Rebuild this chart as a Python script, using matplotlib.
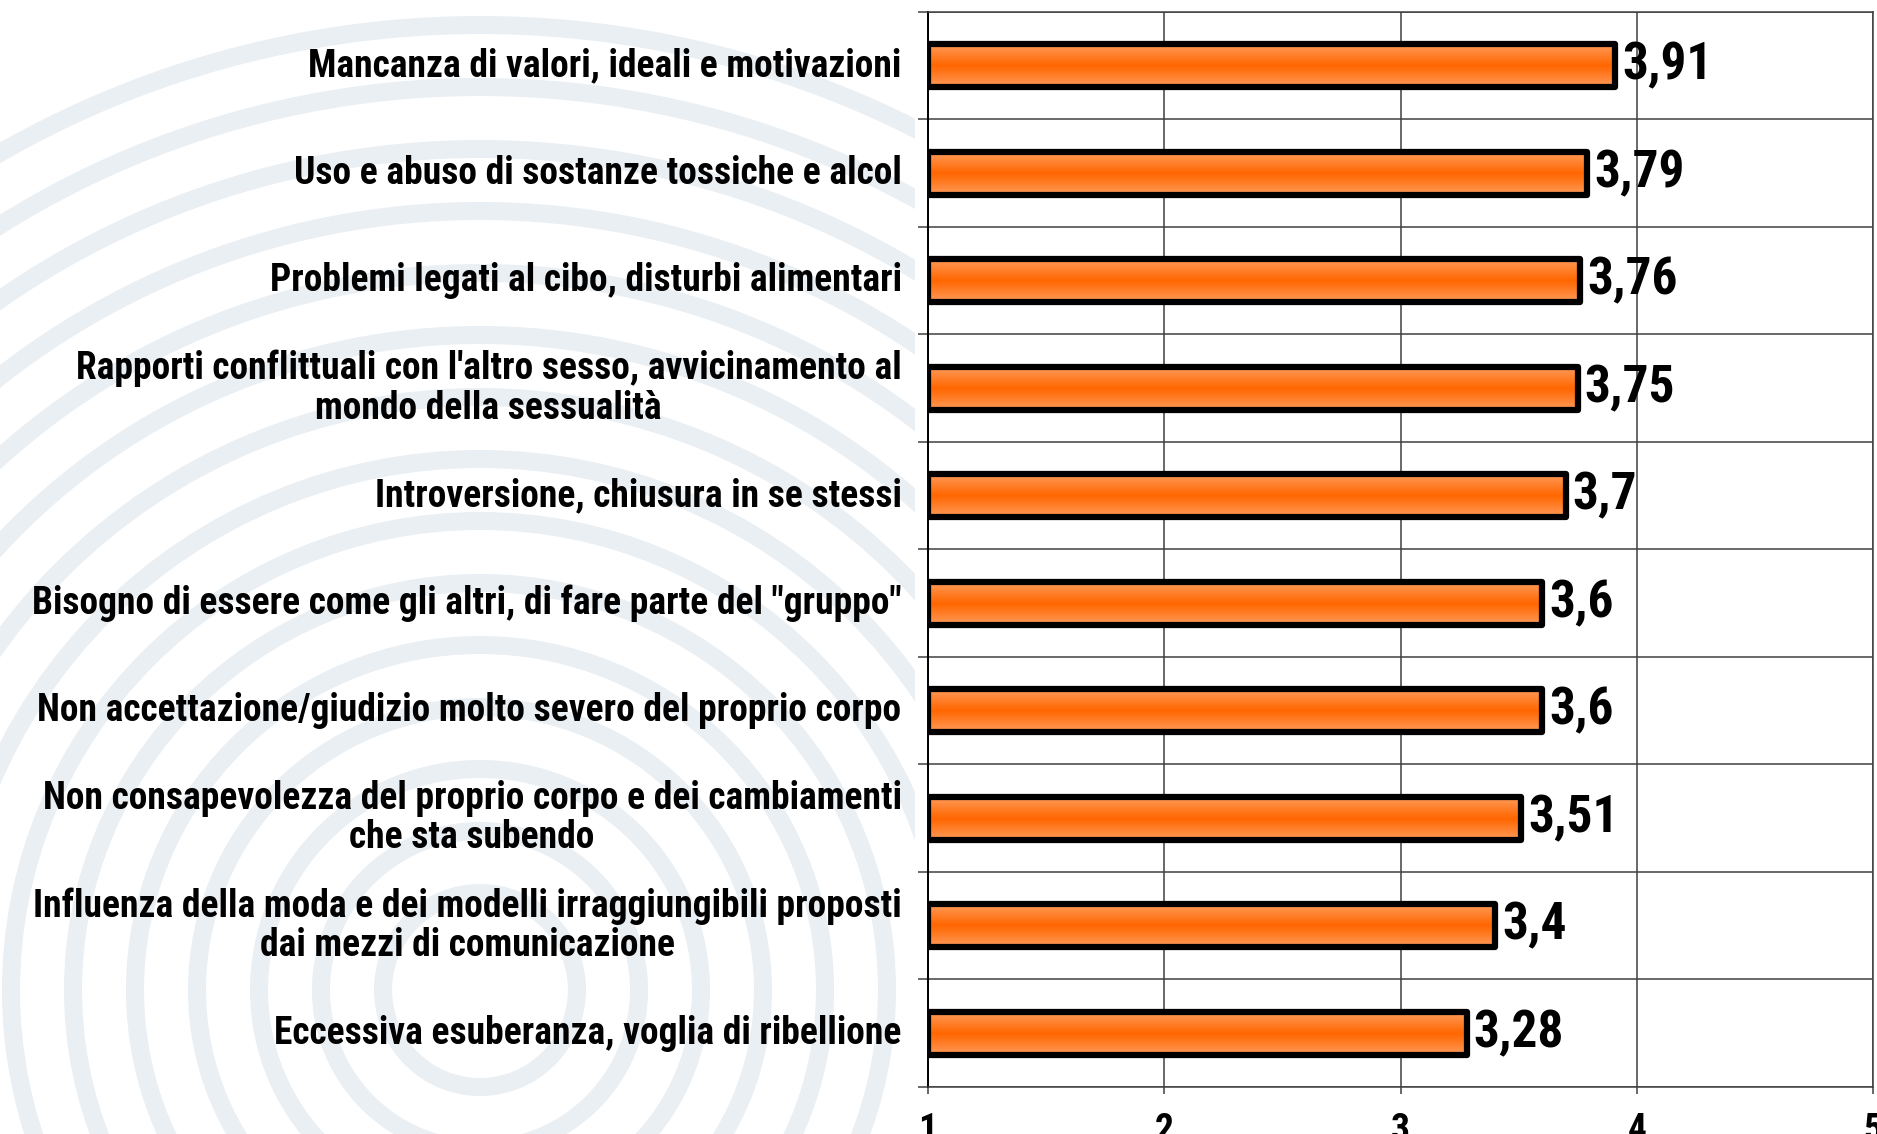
import numpy as np
import matplotlib
matplotlib.use("Agg")
import matplotlib.pyplot as plt
from matplotlib import font_manager as fm
from matplotlib.patches import Circle, Rectangle
from matplotlib.colors import LinearSegmentedColormap
from matplotlib.transforms import blended_transform_factory, offset_copy

categories = [
    "Mancanza di valori, ideali e motivazioni",
    "Uso e abuso di sostanze tossiche e alcol",
    "Problemi legati al cibo, disturbi alimentari",
    "Rapporti conflittuali con l'altro sesso, avvicinamento al\nmondo della sessualità",
    "Introversione, chiusura in se stessi",
    "Bisogno di essere come gli altri, di fare parte del \"gruppo\"",
    "Non accettazione/giudizio molto severo del proprio corpo",
    "Non consapevolezza del proprio corpo e dei cambiamenti\nche sta subendo",
    "Influenza della moda e dei modelli irraggiungibili proposti\ndai mezzi di comunicazione",
    "Eccessiva esuberanza, voglia di ribellione",
]
values = [3.91, 3.79, 3.76, 3.75, 3.7, 3.6, 3.6, 3.51, 3.4, 3.28]
value_labels = ["3,91", "3,79", "3,76", "3,75", "3,7", "3,6", "3,6", "3,51", "3,4", "3,28"]
xticks = [1, 2, 3, 4, 5]
xtick_labels = ["1", "2", "3", "4", "5"]
x_min, x_max = 1, 5


def pick(fams):
    for f in fams:
        try:
            fm.findfont(fm.FontProperties(family=f, weight="bold"), fallback_to_default=False)
            return f
        except Exception:
            pass
    return "DejaVu Sans"


label_font = pick(["Roboto Condensed", "Open Sans Condensed", "Liberation Sans"])
num_font = label_font

W, H = 1877, 1134
fig = plt.figure(figsize=(W / 100, H / 100), dpi=100)
fig.patch.set_facecolor("white")

# faint watermark in the background (decorative)
wm = fig.add_axes([0, 0, 1, 1], zorder=0)
wm.set_xlim(0, W)
wm.set_ylim(H, 0)
wm.axis("off")
clip = Rectangle((0, 0), 915, H, transform=wm.transData)
for r in np.arange(965, 60, -62):
    c = Circle((480, 990), r, fill=False, ec="#eaeff4", lw=13)
    wm.add_patch(c)
    c.set_clip_path(clip)

# main axes
ax = fig.add_axes([928 / W, 1 - 1087 / H, (1873 - 928) / W, (1087 - 12) / H], zorder=1)
ax.set_facecolor("none")
n = len(categories)
y = np.arange(n)

h = 0.40
vals = np.array(values)
fills = ax.barh(y, vals - x_min, left=x_min, height=h, color="#ff6a10", linewidth=0, zorder=3)
cmap = LinearSegmentedColormap.from_list("org", ["#ff9a58", "#ff6600", "#ff9a58"])
grad = np.linspace(0, 1, 64).reshape(-1, 1)
for b, v, yi in zip(fills, vals, y):
    im = ax.imshow(grad, cmap=cmap, aspect="auto", extent=[x_min, v, yi + h / 2, yi - h / 2],
                   zorder=3.2, interpolation="bilinear")
    im.set_clip_path(b)
ax.barh(y, vals - x_min, left=x_min, height=h, facecolor="none", edgecolor="black",
        linewidth=4.5, zorder=4, joinstyle="round")
ax.set_xlim(x_min, x_max)
ax.set_ylim(n - 0.5, -0.5)

for v, yi, lab in zip(vals, y, value_labels):
    ax.annotate(lab, xy=(v, yi), xytext=(5, 0), textcoords="offset points",
                ha="left", va="center", fontsize=37, fontweight="bold",
                family=num_font, color="black", zorder=5)

# category labels
trans = offset_copy(blended_transform_factory(ax.transAxes, ax.transData), fig=fig, x=-19, y=0, units="points")
for yi, cat in zip(y, categories):
    ax.text(0, yi, cat, transform=trans, ha="right", va="center", multialignment="center",
            fontsize=27, fontweight="bold", family=label_font, color="black", linespacing=1.08)

# grid / ticks
ax.set_xticks(xticks)
ax.set_xticklabels(xtick_labels, fontsize=27, fontweight="bold", family=num_font)
ax.set_yticks(np.arange(-0.5, n, 1.0))
ax.set_yticklabels([])
ax.tick_params(axis="x", length=5, width=1.1, color="#404040", pad=13, direction="out")
ax.tick_params(axis="y", length=7, width=1.1, color="#404040", direction="out")
ax.grid(True, color="#404040", linewidth=1.1, zorder=1)
ax.set_axisbelow(True)
for s in ax.spines.values():
    s.set_color("#404040")
    s.set_linewidth(1.1)
ax.spines["left"].set_color("black")
ax.spines["left"].set_linewidth(1.4)

fig.savefig("out.png", dpi=100, facecolor="white")
